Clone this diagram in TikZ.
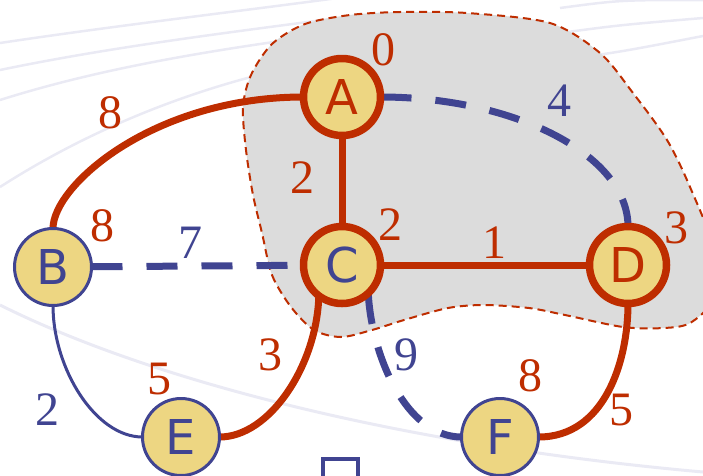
\documentclass[tikz,border=0pt]{standalone}
\usepackage{fontspec}
\setmainfont{Liberation Serif}
\newfontfamily\vertexfont{DejaVu Sans}
\usepackage{tikz}
\definecolor{tred}{RGB}{190,45,0}
\definecolor{tblue}{RGB}{64,68,145}
\definecolor{vyellow}{RGB}{237,214,130}
\definecolor{cloudgray}{RGB}{220,220,220}
\definecolor{swoosh}{RGB}{234,234,244}
\pgfdeclarelayer{back}
\pgfdeclarelayer{edges}
\pgfsetlayers{back,edges,main}
\tikzset{
  vtx/.style={circle, minimum size=77pt, inner sep=0pt, outer sep=0pt, fill=vyellow,
    font=\vertexfont\fontsize{48}{52}\selectfont},
  donevtx/.style={vtx, draw=tred, line width=7.5pt},
  openvtx/.style={vtx, draw=tblue, line width=3pt},
  treeedge/.style={draw=tred, line width=7pt},
  dashedge/.style={draw=tblue, line width=7pt, dash pattern=on 31pt off 24pt},
  thinedge/.style={draw=tblue, line width=3pt},
  wred/.style={inner sep=0pt, text=tred, font=\fontsize{48}{52}\selectfont},
  wblue/.style={inner sep=0pt, text=tblue, font=\fontsize{48}{52}\selectfont}
}
\newcommand{\wlab}[5]{\node[#1] (#2) at (#3,-#4) {#5};}

\begin{document}
\begin{tikzpicture}[x=1pt,y=1pt]
        \useasboundingbox (0,0) rectangle (703,-475);
        \begin{pgfonlayer}{back}
        %background
        \foreach \a/\b/\c in {43/25/10, 70/45/30, 100/62/45, 187/110/70} {
        \draw[swoosh, line width=2.5pt] (0,-\a) .. controls (120,-\b) and (250,-\c) .. (360,-\c+15);}
        \foreach \a/\b in {8/0, 33/18, 60/36} {
        \draw[swoosh, line width=2.5pt] (560,-\a) .. controls (620,-\a+8) .. (703,-\b);}
        \draw[swoosh, line width=3pt] (0,-305) .. controls (150,-380) and (400,-445) .. (703,-472);
        %cloud
        \filldraw[cloudgray, draw=tred, line width=2pt, dash pattern=on 8pt off 5pt]
          plot[smooth cycle] coordinates {(262,-233) (272,-275) (291,-307) (314,-330) (341,-337)
          (372,-330) (404,-320) (448,-308) (484,-305) (529,-308) (565,-315) (623,-327) (664,-328)
          (690,-323) (712,-300) (714,-250) (690,-187) (667,-140) (633,-93) (600,-53) (550,-23)
          (467,-13) (400,-12) (350,-15) (305,-24) (272,-44) (251,-75) (243,-107) (246,-150) (253,-195)};
        \end{pgfonlayer}

        \node[donevtx, text=tred] (A) at (342,-97) {A};
        \node[openvtx, text=tblue] (B) at (53,-267) {B};
        \node[donevtx, text=tblue] (C) at (342,-265) {C};
        \node[donevtx, text=tred] (D) at (628,-265) {D};
        \node[openvtx, text=tblue] (E) at (181,-437) {E};
        \node[openvtx, text=tblue] (F) at (500,-437) {F};

        \begin{pgfonlayer}{edges}
        \draw[treeedge] (A.west) .. controls +(-150,0) and +(0,43) .. (B.north);
        \draw[treeedge] (A) -- (C);
        \draw[dashedge] (A.east) .. controls +(135,0) and +(0,71) .. (D.north);
        \draw[dashedge] (B) -- (C);
        \draw[treeedge] (C) -- (D);
        \draw[thinedge] (B.south) .. controls +(0,-63) and +(-47,0) .. (E.west);
        \draw[treeedge] (C.-127) .. controls +(-2,-70) and +(50,0) .. (E.east);
        \draw[dashedge] (C.-47) .. controls +(3,-61) and +(-56,0) .. (F.west);
        \draw[treeedge] (D.south) .. controls +(0,-58) and +(66,0) .. (F.east);
        \end{pgfonlayer}

        %distances
        \wlab{wred}{dA}{383}{50}{0}
        \wlab{wred}{dB}{102}{226}{8}
        \wlab{wred}{dC}{390}{225}{2}
        \wlab{wred}{dD}{676}{228}{3}
        \wlab{wred}{dE}{159}{379}{5}
        \wlab{wred}{dF}{530}{376}{8}
        %weights
        \wlab{wred}{wAB}{110}{113}{8}
        \wlab{wred}{wAC}{302}{178}{2}
        \wlab{wblue}{wAD}{559}{101}{4}
        \wlab{wblue}{wBC}{190}{243}{7}
        \wlab{wred}{wCD}{494}{243}{1}
        \wlab{wred}{wCE}{270}{355}{3}
        \wlab{wblue}{wCF}{406}{355}{9}
        \wlab{wblue}{wBE}{47}{410}{2}
        \wlab{wred}{wDF}{621}{410}{5}

        \draw[tblue, line width=3.5pt] (323,-490) rectangle (358,-459);
\end{tikzpicture}
\end{document}
